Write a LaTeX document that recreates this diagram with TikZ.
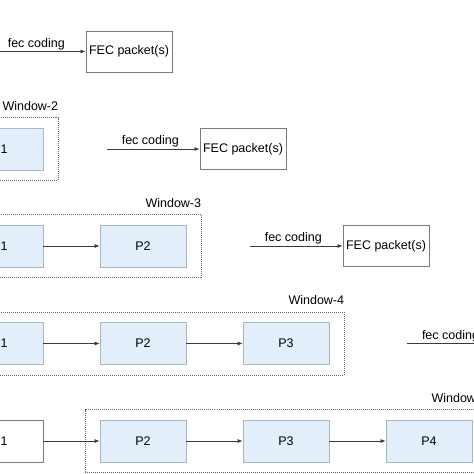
\documentclass[tikz,border=0pt]{standalone}
\usepackage{fontspec}
\setmainfont{Liberation Sans}
\usetikzlibrary{arrows.meta,fit}
\definecolor{pfill}{HTML}{E2EFFB}
\definecolor{pdraw}{HTML}{A9B6C3}
\definecolor{fdraw}{HTML}{7A7A7A}
\definecolor{wdraw}{HTML}{6A6A6A}
\definecolor{adraw}{HTML}{3A3A3A}
\begin{document}
\begin{tikzpicture}[x=1pt,y=-1pt, font=\fontsize{12.5}{15}\selectfont,
 pkt/.style={draw=pdraw, fill=pfill, line width=0.8pt, minimum width=86pt, minimum height=42pt, inner sep=0pt},
 pwhite/.style={pkt, fill=white, draw=fdraw},
 fec/.style={draw=fdraw, line width=0.9pt, fill=white, minimum width=86pt, minimum height=41pt, inner sep=0pt},
 win/.style={draw=wdraw, line width=0.8pt, dash pattern=on 1pt off 1pt, inner xsep=14.5pt, inner ysep=10pt},
 wlabel/.style={anchor=base east, inner sep=0pt},
 flow/.style={draw=adraw, line width=0.7pt, -{Latex[length=5pt,width=4pt]}},
 flabel/.style={anchor=base, inner sep=0pt}]
\useasboundingbox (0,0) rectangle (474,474);
\clip (0,0) rectangle (474,474);

% Row 1
\coordinate (s1) at (-7,51.5);
\node[fec] (f1) at (129,51.5) {FEC packet(s)};
\draw[flow] (s1) -- (f1.west) node[flabel, midway, xshift=-3pt, yshift=4.5pt] {fec coding};

% Row 2
\node[pkt] (a21) at (0,149) {P1};
\node[win, fit=(a21)] (w2) {};
\node[wlabel] at ([yshift=7pt]w2.north east) {Window-2};
\coordinate (s2) at (107,149);
\node[fec] (f2) at (243,149) {FEC packet(s)};
\draw[flow] (s2) -- (f2.west) node[flabel, midway, xshift=-3pt, yshift=4.5pt] {fec coding};

% Row 3
\node[pkt] (a31) at (0,246) {P1};
\node[pkt] (a32) at (143,246) {P2};
\node[win, fit=(a31)(a32)] (w3) {};
\node[wlabel] at ([yshift=7pt]w3.north east) {Window-3};
\draw[flow] (a31) -- (a32);
\coordinate (s3) at (250,246);
\node[fec] (f3) at (386,246) {FEC packet(s)};
\draw[flow] (s3) -- (f3.west) node[flabel, midway, xshift=-3pt, yshift=4.5pt] {fec coding};

% Row 4
\node[pkt] (a41) at (0,343.5) {P1};
\node[pkt] (a42) at (143,343.5) {P2};
\node[pkt] (a43) at (286,343.5) {P3};
\node[win, fit=(a41)(a43)] (w4) {};
\node[wlabel] at ([yshift=7pt]w4.north east) {Window-4};
\draw[flow] (a41) -- (a42);
\draw[flow] (a42) -- (a43);
\coordinate (s4) at (407,343.5);
\coordinate (e4) at (500,343.5);
\draw[flow] (s4) -- (e4) node[flabel, midway, xshift=-3pt, yshift=4.5pt] {fec coding};

% Row 5
\node[pwhite] (a51) at (0,441) {P1};
\node[pkt] (a52) at (143,441) {P2};
\node[pkt] (a53) at (286,441) {P3};
\node[pkt] (a54) at (429,441) {P4};
\node[win, fit=(a52)(a54)] (w5) {};
\node[wlabel] at ([yshift=7pt]w5.north east) {Window-5};
\draw[flow] (a51) -- (a52);
\draw[flow] (a52) -- (a53);
\draw[flow] (a53) -- (a54);
\end{tikzpicture}
\end{document}
